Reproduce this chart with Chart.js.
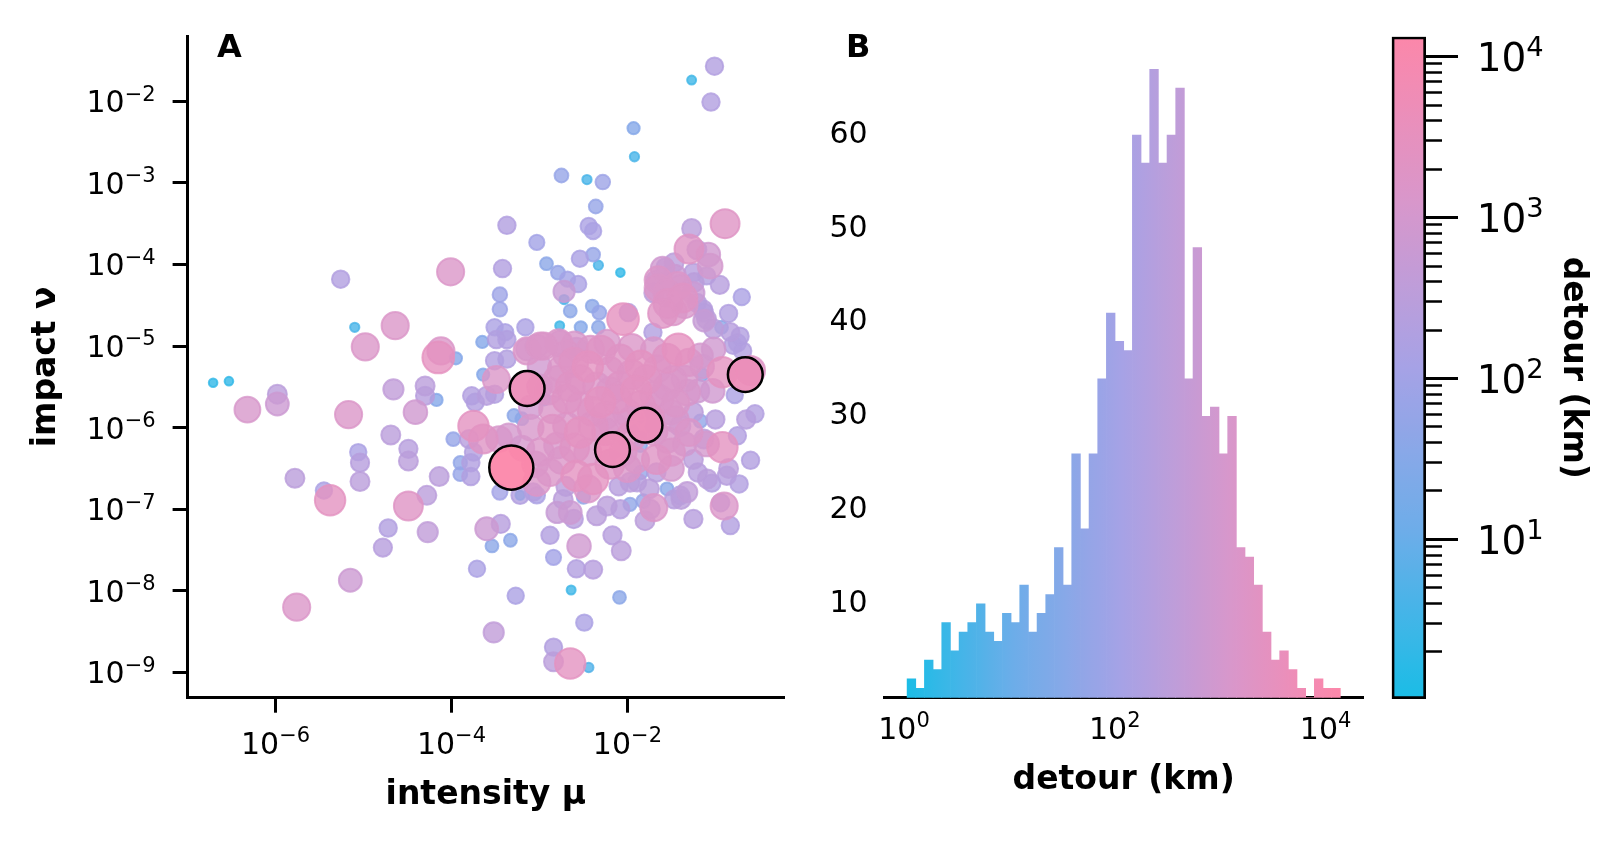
<!DOCTYPE html>
<html><head><meta charset="utf-8">
<script src="https://cdn.jsdelivr.net/npm/chart.js@4.4.1/dist/chart.umd.min.js"></script>
<style>
html,body{margin:0;padding:0;background:#fff;width:1616px;height:842px;overflow:hidden}
canvas{position:absolute;top:0}
</style></head><body>
<canvas id="cA" width="800" height="842" style="left:0;width:800px;height:842px"></canvas>
<canvas id="cB" width="580" height="842" style="left:800px;width:580px;height:842px"></canvas>
<canvas id="cC" width="236" height="842" style="left:1380px;width:236px;height:842px"></canvas>
<script>
// ---------- DATA ----------
// Panel A: log10 of intensity mu, log10 of impact nu, detour (km)
const intensityExp = [
-6.71,-6.53,-6.32,-5.98,-5.98,-5.26,-5.10,-4.98,-4.64,-4.01,-4.15,-4.12,-3.95,-3.65,-5.17,-4.66,-4.30,-4.30,-4.41,-4.17,
-3.77,-3.73,-4.69,-4.49,-4.49,-5.06,-5.04,-5.04,-5.78,-5.45,-5.38,-4.14,-4.28,-4.49,-4.72,-4.27,-3.90,-3.90,-3.60,-3.44,
-4.78,-5.15,-5.76,-3.71,-3.54,-3.33,-3.27,-3.52,-2.84,-2.84,-2.65,-2.44,-2.49,-2.64,-2.09,-2.84,-2.88,-2.58,-2.39,-2.55,
-2.07,-2.17,-1.80,-1.70,-1.39,-0.90,-1.04,-0.73,-1.97,-1.82,-2.35,-2.23,-2.65,-2.80,-3.45,-3.22,-3.03,-1.89,-1.01,-1.27,
-1.05,-1.93,-1.92,-2.75,-2.46,-2.28,-2.36,-3.37,-2.44,-2.39,-3.03,-0.89,-1.27,-1.30,-1.08,-1.06,-2.54,-2.39,-2.92,-2.33,
-2.79,-3.42,-1.57,-2.08,-2.68,-2.56,-2.72,-3.45,-3.45,-2.65,-2.40,-2.32,-2.72,-3.51,-3.39,-3.16,-2.77,-2.53,-2.33,-2.05,
-1.99,-1.71,-1.65,-1.65,-1.60,-1.43,-1.54,-1.48,-1.37,-1.25,-1.24,-1.14,-1.10,-0.93,-0.75,-0.69,-0.60,-1.42,-1.68,-0.80,
-0.55,-0.78,-0.92,-1.03,-0.92,-1.13,-1.30,-1.25,-1.20,-1.67,-1.97,-2.58,-2.39,-3.75,-3.64,-3.80,-3.78,-3.78,-3.46,-3.35,
-3.29,-3.20,-3.64,-3.51,-3.37,-3.49,-3.51,-3.49,-3.37,-3.14,-2.99,-2.78,
-2.69,-2.61,-2.42,-2.23,-2.08,-1.85,-1.66,-1.78,-2.80,-2.54,-2.35,-2.08,-2.69,-2.54,-2.31,-2.12,-2.01,-1.85,-1.63,-2.69,
-2.54,-2.39,-2.16,-2.99,-2.80,-2.88,-1.48,-1.32,-1.51,-1.25,-1.40,-1.17,-1.02,-1.46,-1.40,-2.08,-1.85,-1.67,-3.03,-3.22,
-3.60,-3.75,-3.07,-2.61,-1.25,-0.83,-1.40,-0.83,-0.72,-1.13,-1.21,-1.70,-1.47,-1.10,-1.21,-3.98,-1.85,-1.17,
-2.95,-2.60,-2.30,-1.95,-1.70,-1.55,-1.30,
-3.00,-2.75,-2.45,-2.20,-1.95,-1.55,-1.35,-1.15,
-3.00,-2.90,-2.65,-2.20,-1.90,-1.70,-1.45,-1.20,
-3.10,-2.85,-2.40,-2.25,-1.95,-1.75,-1.45,
-3.10,-2.85,-2.25,-1.95,-1.70,-1.55,
-3.20,-2.60,-2.45,-2.05,-1.90,-1.50,-1.35,
-3.05,-2.75,-2.20,-2.00,-1.50,
-2.70,-2.45,-2.10,-1.75,
-1.55,-1.35,-1.60,-1.25,
-0.85,-0.70,-0.95,-0.65,-0.75,-0.60,-0.85,-1.00,-1.02,-1.13,-1.09,-0.87,-0.94,-1.10,
-3.14,-3.03,-2.77,-2.58,
-2.73,-1.74,-1.47,-1.32,
-2.95,-1.15,-2.50,-1.55
];
const impactExp = [
-5.45,-5.43,-5.78,-5.71,-5.59,-4.18,-4.77,-5.01,-4.75,-4.09,-5.14,-5.06,-5.15,-4.95,-5.84,-5.53,-5.49,-5.61,-5.81,-5.66,
-5.61,-5.69,-6.09,-6.26,-6.41,-6.30,-6.43,-6.66,-6.62,-6.77,-6.89,-6.60,-6.83,-6.96,-7.23,-7.28,-6.43,-6.57,-7.24,-7.18,
-7.47,-7.87,-8.20,-7.73,-7.45,-7.38,-8.06,-8.51,-8.69,-8.87,-8.89,-8.94,-8.39,-7.99,-8.08,-7.59,-7.32,-7.73,-7.74,-7.45,
-7.51,-7.32,-7.14,-6.98,-6.88,-6.96,-6.68,-6.69,-6.94,-6.90,-7.08,-6.96,-7.04,-7.04,-6.79,-6.83,-6.83,-6.67,-1.57,-1.74,
-2.01,-2.33,-2.68,-2.91,-2.96,-2.99,-3.29,-3.52,-3.53,-3.59,-3.73,-3.50,-3.56,-3.81,-3.88,-4.02,-3.93,-3.88,-3.99,-4.01,
-4.10,-4.05,-4.03,-4.10,-4.18,-4.24,-4.33,-4.37,-4.55,-4.57,-4.51,-4.59,-4.43,-4.77,-4.83,-4.77,-4.75,-4.77,-4.77,-4.67,
-4.59,-4.83,-4.19,-4.29,-4.05,-4.26,-4.48,-4.58,-4.41,-4.10,-4.22,-4.55,-4.67,-4.77,-4.96,-5.06,-5.30,-5.04,-4.19,-4.99,
-5.83,-5.60,-5.32,-5.55,-6.24,-6.14,-6.06,-6.39,-6.55,-6.39,-6.67,-6.59,-6.63,-5.98,-6.14,-6.14,-6.43,-6.60,-6.14,-6.10,
-5.85,-5.89,-5.35,-5.18,-5.16,-5.41,-5.59,-4.92,-4.92,-5.06,-5.00,-4.96,
-5.10,-5.20,-5.04,-4.96,-5.16,-5.24,-5.28,-5.41,-5.41,-5.41,-5.49,-5.49,-5.65,-5.73,-5.69,-5.65,-5.81,-5.73,-5.65,-5.98,
-6.06,-5.98,-5.98,-6.30,-6.22,-6.55,-5.41,-5.57,-5.81,-5.81,-5.98,-5.12,-5.04,-4.14,-4.26,-7.00,-6.55,-6.55,-6.67,-6.83,
-5.61,-6.30,-6.79,-7.12,-7.12,-7.20,-6.83,-4.83,-4.88,-4.69,-4.47,-4.35,-3.98,-4.14,-3.82,-6.14,-6.22,-5.92,
-5.00,-4.98,-5.05,-5.02,-5.05,-5.15,-5.20,
-5.25,-5.28,-5.25,-5.30,-5.35,-5.50,-5.40,-5.25,
-5.50,-5.55,-5.50,-5.55,-5.55,-5.60,-5.70,-5.55,
-5.75,-5.78,-5.80,-5.85,-5.90,-5.88,-5.90,
-6.00,-6.02,-6.05,-6.10,-6.05,-6.15,
-6.25,-6.25,-6.30,-6.30,-6.40,-6.30,-6.20,
-6.45,-6.40,-6.45,-6.50,-6.50,
-6.72,-6.75,-6.72,-6.75,
-4.35,-4.50,-4.60,-4.35,
-4.60,-4.40,-4.25,-5.90,-6.10,-6.40,-6.50,-5.90,-4.79,-4.59,-6.63,-6.59,-6.92,-6.20,
-5.04,-5.00,-4.96,-5.04,
-6.88,-7.00,-6.88,-6.79,
-5.65,-5.35,-6.85,-6.75
];
const detourKm = [
2,2,1200,700,300,200,4,1500,1500,1500,3000,1500,30,30,1500,400,300,250,800,30,
200,200,300,250,300,150,250,300,300,150,2500,300,300,2000,200,400,50,60,700,250,
250,700,1500,150,40,40,150,400,200,300,2500,5,150,3,40,100,200,200,250,800,
300,250,300,1500,300,1500,200,200,50,60,300,300,700,500,100,200,150,250,200,3,
200,30,4,60,4,80,60,200,150,150,100,2000,300,2000,800,1000,150,60,40,4,
60,200,200,2,100,150,500,80,80,40,40,60,4,150,150,150,3,30,40,3000,
200,200,1500,1500,800,1500,2000,1500,2000,250,300,250,300,40,200,200,2000,3000,250,200,
200,150,2500,800,2500,300,1500,300,250,2000,300,2500,2500,2500,2000,250,200,200,1200,1000,
40,40,30,200,200,1500,200,200,200,1500,1500,1500,
1500,2000,1500,1200,2000,2500,1500,2000,1500,2000,1500,2000,2000,1500,2500,2000,1500,2000,1500,1500,
2500,2000,1500,1500,1200,1500,1500,1200,1000,300,400,1000,800,600,500,250,60,250,1500,4,
250,200,200,250,250,200,250,250,200,500,250,300,300,200,300,60,40,50,
1500,1200,2000,1500,1200,2000,1500,
800,1500,2500,1500,2000,1500,1200,800,
1000,1500,2000,1500,2500,1500,1500,700,
800,1500,2000,1500,1500,2000,1200,
1200,2000,1500,2000,1500,1200,
1000,2000,1500,1500,1200,1500,800,
1200,1500,2000,1500,1000,
300,1500,250,300,
1500,1200,2000,600,
200,150,250,250,200,200,300,250,300,250,300,250,200,1000,
600,700,800,700,
300,300,250,400,
40,40,50,40
];
// Highlighted (black-edged) points
const hlIntensityExp = [-0.66,-3.14,-3.32,-2.17,-1.80];
const hlImpactExp    = [-5.35,-5.52,-6.49,-6.27,-5.97];
const hlDetourKm     = [4500,4500,13000,4500,4500];

// Panel B: histogram counts, 50 log-spaced bins between these edges (km)
const histCounts = [2,1,4,3,8,5,7,8,10,7,6,9,8,12,7,9,11,16,12,26,18,26,34,41,38,37,60,57,67,57,
                    60,65,34,48,30,31,26,30,16,15,12,7,4,5,3,1,0,2,1,1];
const histLowEdgeKm = 1.07;
const histHighEdgeKm = 13800;

// Colour scale range (km)
const cbMinKm = 1.02;
const cbMaxKm = 13300;

// Tick values
const xTicksA = [1e-6,1e-4,1e-2];
const yTicksA = [1e-9,1e-8,1e-7,1e-6,1e-5,1e-4,1e-3,1e-2];
const xTicksB = [1,100,10000];
const yTicksB = [10,20,30,40,50,60];
const cbMajorTicks = [10,100,1000,10000];
const cbMinorTicks = [2,3,4,5,6,7,8,9,20,30,40,50,60,70,80,90,200,300,400,500,600,700,800,900,2000,3000,4000,5000,6000,7000,8000,9000];

// ---------- HELPERS ----------
Chart.defaults.font.family = 'DejaVu Sans';
Chart.defaults.color = '#000';
const FAM = '"DejaVu Sans"';
const FS_TICK = 30, FS_CB = 39, FS_LAB = 33, FS_PANEL = 32;

const cmapPos = [0, 0.25, 0.5, 0.75, 1];
const cmapStops = [[26,189,230],[108,173,233],[166,162,230],[216,151,203],[252,135,170]];
function cmap(t){
  t = Math.max(0, Math.min(1, t));
  let k = 0;
  while (k < cmapPos.length - 2 && t > cmapPos[k+1]) k++;
  const a = cmapStops[k], b = cmapStops[k+1];
  const u = (t - cmapPos[k]) / (cmapPos[k+1] - cmapPos[k]);
  return [0,1,2].map(i => Math.round(a[i] + (b[i]-a[i])*u));
}
function norm(d){ return (Math.log10(d)-Math.log10(cbMinKm))/(Math.log10(cbMaxKm)-Math.log10(cbMinKm)); }
function rgba(c,a){ return `rgba(${c[0]},${c[1]},${c[2]},${a})`; }
function rad(d){ const L = Math.log10(d); return 4 + L + 0.2*L*L*L; }
function expStr(v){ const k = Math.round(Math.log10(v)); return (k<0?'\u2212':'') + Math.abs(k); }
function drawPow(ctx, base, exp, x, baseline, fs, align){
  const fb = `${fs}px ${FAM}`, fe = `${fs*0.7}px ${FAM}`;
  ctx.font = fb; const wb = ctx.measureText(base).width;
  ctx.font = fe; const we = ctx.measureText(exp).width;
  const total = wb + we;
  const x0 = align === 'center' ? x - total/2 : (align === 'right' ? x - total : x);
  ctx.textAlign = 'left'; ctx.textBaseline = 'alphabetic'; ctx.fillStyle = '#000';
  ctx.font = fb; ctx.fillText(base, x0, baseline);
  ctx.font = fe; ctx.fillText(exp, x0 + wb, baseline - 0.385*fs);
}
function setTicks(arr){ return s => { s.ticks = arr.map(v => ({value: v})); }; }

// ---------- PANEL A ----------
const ptsA = intensityExp.map((e,i) => ({x: Math.pow(10,e), y: Math.pow(10, impactExp[i]), d: detourKm[i]}))
  .sort((a,b) => a.d - b.d);
const ptsH = hlIntensityExp.map((e,i) => ({x: Math.pow(10,e), y: Math.pow(10, hlImpactExp[i]), d: hlDetourKm[i]}));

const textA = {
  id: 'textA',
  afterDraw(chart){
    const ctx = chart.ctx, ca = chart.chartArea, xs = chart.scales.x, ys = chart.scales.y;
    ctx.save();
    yTicksA.forEach(v => {
      const y = ys.getPixelForValue(v);
      drawPow(ctx, '10', expStr(v), ca.left - 32, y + 0.3645*FS_TICK, FS_TICK, 'right');
    });
    xTicksA.forEach(v => {
      const x = xs.getPixelForValue(v);
      drawPow(ctx, '10', expStr(v), x, ca.bottom + 56, FS_TICK, 'center');
    });
    ctx.fillStyle = '#000';
    ctx.font = `bold ${FS_PANEL}px ${FAM}`;
    ctx.textAlign = 'left'; ctx.textBaseline = 'alphabetic';
    ctx.fillText('A', 217, 57);
    ctx.font = `bold ${FS_LAB}px ${FAM}`;
    ctx.textAlign = 'center';
    ctx.fillText('intensity \u03bc', (ca.left + ca.right)/2, 804);
    ctx.translate(55, (ca.top + ca.bottom)/2);
    ctx.rotate(-Math.PI/2);
    ctx.fillText('impact \u03bd', 0, 0);
    ctx.restore();
  }
};

new Chart(document.getElementById('cA'), {
  type: 'scatter',
  data: { datasets: [
    { data: ptsA, order: 2,
      pointRadius: c => c.raw ? rad(c.raw.d) : 5,
      pointBackgroundColor: c => c.raw ? rgba(cmap(norm(c.raw.d)), 0.8) : '#000',
      pointBorderColor: c => c.raw ? rgba(cmap(norm(c.raw.d)), 0.8) : '#000',
      pointBorderWidth: 2 },
    { data: ptsH, order: 1,
      pointRadius: c => c.raw ? rad(c.raw.d) : 5,
      pointBackgroundColor: c => c.raw ? rgba(cmap(norm(c.raw.d)), 0.95) : '#000',
      pointBorderColor: '#000',
      pointBorderWidth: 2.5 }
  ]},
  options: {
    responsive: false, animation: false, events: [],
    layout: { autoPadding: false, padding: { top: 36, right: 16, left: 0, bottom: 0 } },
    plugins: { legend: {display: false}, tooltip: {enabled: false} },
    scales: {
      x: { type: 'logarithmic', min: 1e-7, max: Math.pow(10,-0.22),
           afterBuildTicks: setTicks(xTicksA),
           afterFit: s => { s.height = 144.3; },
           ticks: { display: false },
           grid: { display: true, drawOnChartArea: false, drawTicks: true, tickLength: 15, tickWidth: 3, tickColor: '#000' },
           border: { display: true, color: '#000', width: 3 } },
      y: { type: 'logarithmic', min: Math.pow(10,-9.31), max: Math.pow(10,-1.2),
           afterBuildTicks: setTicks(yTicksA),
           afterFit: s => { s.width = 187.6; },
           ticks: { display: false },
           grid: { display: true, drawOnChartArea: false, drawTicks: true, tickLength: 15, tickWidth: 3, tickColor: '#000' },
           border: { display: true, color: '#000', width: 3 } }
    }
  },
  plugins: [textA]
});

// ---------- PANEL B ----------
const lo = Math.log10(histLowEdgeKm), hi = Math.log10(histHighEdgeKm);
const bw = (hi - lo) / histCounts.length;
const histData = histCounts.map((c,i) => ({ x: Math.pow(10, lo + (i+0.5)*bw), y: c }));

let gradB = null, gradBKey = '';
function histGradient(ctx){
  const chart = ctx.chart; const ca = chart.chartArea;
  if (!ca) return null;
  const xs = chart.scales.x;
  const x0 = xs.getPixelForValue(cbMinKm), x1 = xs.getPixelForValue(cbMaxKm);
  const key = x0 + '_' + x1;
  if (gradB && gradBKey === key) return gradB;
  const g = chart.ctx.createLinearGradient(x0, 0, x1, 0);
  for (let i = 0; i <= 40; i++) g.addColorStop(i/40, rgba(cmap(i/40), 1));
  gradB = g; gradBKey = key;
  return g;
}

const textB = {
  id: 'textB',
  afterDraw(chart){
    const ctx = chart.ctx, ca = chart.chartArea, xs = chart.scales.x;
    ctx.save();
    xTicksB.forEach(v => {
      const x = xs.getPixelForValue(v);
      drawPow(ctx, '10', expStr(v), x, ca.bottom + 41, FS_TICK, 'center');
    });
    ctx.fillStyle = '#000';
    ctx.font = `bold ${FS_PANEL}px ${FAM}`;
    ctx.textAlign = 'left'; ctx.textBaseline = 'alphabetic';
    ctx.fillText('B', 46, 57);
    ctx.font = `bold ${FS_LAB}px ${FAM}`;
    ctx.textAlign = 'center';
    ctx.fillText('detour (km)', (ca.left + ca.right)/2, 789);
    ctx.restore();
  }
};

new Chart(document.getElementById('cB'), {
  type: 'bar',
  data: { datasets: [{ data: histData, backgroundColor: histGradient, borderWidth: 0,
                       barPercentage: 1, categoryPercentage: 1 }] },
  options: {
    responsive: false, animation: false, events: [],
    layout: { autoPadding: false, padding: { top: 37, right: 17, left: 0, bottom: 0 } },
    plugins: { legend: {display: false}, tooltip: {enabled: false} },
    scales: {
      x: { type: 'logarithmic', min: Math.pow(10,-0.187), max: Math.pow(10,4.355), offset: false,
           afterBuildTicks: setTicks(xTicksB),
           afterFit: s => { s.height = 144.3; },
           ticks: { display: false },
           grid: { display: false, offset: false, drawTicks: false },
           border: { display: true, color: '#000', width: 3 } },
      y: { type: 'linear', min: 0, max: 70.45,
           afterBuildTicks: setTicks(yTicksB),
           afterFit: s => { s.width = 84.3; },
           ticks: { display: true, padding: 16.6, font: { family: 'DejaVu Sans', size: FS_TICK }, color: '#000' },
           grid: { display: false, drawTicks: false },
           border: { display: false } }
    }
  },
  plugins: [textB]
});

// ---------- COLORBAR ----------
let gradC = null, gradCKey = '';
function cbGradient(ctx){
  const chart = ctx.chart; const ca = chart.chartArea;
  if (!ca) return null;
  const ys = chart.scales.y;
  const y0 = ys.getPixelForValue(cbMinKm), y1 = ys.getPixelForValue(cbMaxKm);
  const key = y0 + '_' + y1;
  if (gradC && gradCKey === key) return gradC;
  const g = chart.ctx.createLinearGradient(0, y0, 0, y1);
  for (let i = 0; i <= 40; i++) g.addColorStop(i/40, rgba(cmap(i/40), 1));
  gradC = g; gradCKey = key;
  return g;
}

const textC = {
  id: 'textC',
  afterDraw(chart){
    const ctx = chart.ctx, ca = chart.chartArea, ys = chart.scales.y;
    ctx.save();
    cbMajorTicks.forEach(v => {
      const y = ys.getPixelForValue(v);
      drawPow(ctx, '10', expStr(v), 96.7, y + 0.3645*FS_CB, FS_CB, 'left');
    });
    ctx.fillStyle = '#000';
    ctx.font = `bold ${FS_LAB}px ${FAM}`;
    ctx.textAlign = 'center'; ctx.textBaseline = 'alphabetic';
    ctx.translate(184, (ca.top + ca.bottom)/2);
    ctx.rotate(Math.PI/2);
    ctx.fillText('detour (km)', 0, 0);
    ctx.restore();
  }
};

new Chart(document.getElementById('cC'), {
  type: 'bar',
  data: { labels: ['detour'], datasets: [{ data: [[cbMinKm, cbMaxKm]], backgroundColor: cbGradient,
          borderColor: '#000', borderWidth: 3, borderSkipped: false, barPercentage: 1, categoryPercentage: 1, yAxisID: 'y' }] },
  options: {
    responsive: false, animation: false, events: [],
    layout: { autoPadding: false, padding: { top: 36.7, right: 0, left: 11.7, bottom: 143 } },
    plugins: { legend: {display: false}, tooltip: {enabled: false} },
    scales: {
      x: { type: 'category', display: false },
      y: { type: 'logarithmic', position: 'right', weight: 1, min: cbMinKm, max: cbMaxKm,
           afterBuildTicks: setTicks(cbMajorTicks),
           afterFit: s => { s.width = 190; },
           ticks: { display: false },
           grid: { display: true, drawOnChartArea: false, drawTicks: true, tickLength: 32, tickWidth: 3, tickColor: '#000' },
           border: { display: false } },
      y2: { type: 'logarithmic', position: 'right', weight: 0, min: cbMinKm, max: cbMaxKm,
           afterBuildTicks: setTicks(cbMinorTicks),
           afterFit: s => { s.width = 0; },
           ticks: { display: false },
           grid: { display: true, drawOnChartArea: false, drawTicks: true, tickLength: 16, tickWidth: 2.5, tickColor: '#000' },
           border: { display: false } }
    }
  },
  plugins: [textC]
});
</script>
</body></html>
